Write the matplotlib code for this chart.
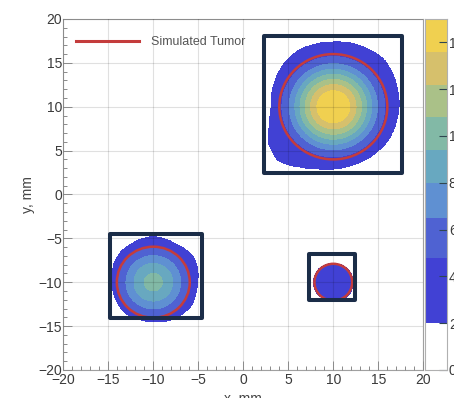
import numpy as np
import matplotlib
matplotlib.use("Agg")
import matplotlib.pyplot as plt
from matplotlib.lines import Line2D
from matplotlib.patches import Circle, Rectangle
from matplotlib.ticker import MultipleLocator

plt.rcParams['font.family'] = ['Liberation Sans', 'DejaVu Sans']

# blobs: centre, peak value, gaussian width
blob_x = [10, -10, 10]
blob_y = [10, -10, -10]
blob_peak = [15.3, 9.83, 4.2]
blob_sigma = [3.75, 3.34, 3.0]

# outer edge of each blob (mm) read every 15 degrees
edge_angles = np.arange(0, 360, 15)
edge_big = [7.3, 7.4, 7.6, 7.8, 7.6, 7.5, 7.4, 7.4, 7.5, 7.4, 7.2, 7.0,
            6.9, 7.3, 8.3, 8.7, 7.9, 7.3, 7.1, 7.0, 7.0, 7.1, 7.2, 7.2]
edge_ll = [4.9, 5.1, 5.3, 5.2, 5.0, 5.1, 5.2, 5.1, 5.0, 5.0, 4.9, 4.7,
           4.6, 4.6, 4.6, 4.7, 4.6, 4.5, 4.5, 4.6, 4.8, 4.9, 5.0, 4.9]
edge_lr = [2.2, 2.2, 2.2, 2.2, 2.15, 2.15, 2.15, 2.15, 2.15, 2.2, 2.2, 2.2,
           2.2, 2.2, 2.2, 2.2, 2.1, 2.1, 2.1, 2.15, 2.2, 2.25, 2.25, 2.2]

# simulated tumours
tumor_r = [6.0, 4.05, 2.1]

# highlight boxes
box_x0 = [2.3, -14.85, 7.3]
box_x1 = [17.6, -4.55, 12.4]
box_y0 = [2.45, -14.07, -12.0]
box_y1 = [18.05, -4.5, -6.75]

levels = [2.0, 4.8, 6.5, 8.0, 9.4, 10.8, 12.2, 13.6, 15.0]
band_colors = ['#4141d4', '#4f62d2', '#5f90d2', '#68a8c0',
               '#82b9a6', '#aac188', '#d6c06c', '#f0d050']
cbar_ticks = [0, 2, 4, 6, 8, 10, 12, 14]

# build the map
grid = np.linspace(-20, 20, 801)
xx, yy = np.meshgrid(grid, grid)
field = np.zeros_like(xx)
for cx, cy, peak, sig, edge in zip(blob_x, blob_y, blob_peak, blob_sigma,
                                   [edge_big, edge_ll, edge_lr]):
    dx, dy = xx - cx, yy - cy
    r = np.hypot(dx, dy)
    th = np.degrees(np.arctan2(dy, dx)) % 360
    r_edge = np.interp(th, edge_angles, edge, period=360)
    g = peak * np.exp(-r**2 / (2 * sig**2))
    field = np.maximum(field, np.where(r < r_edge, np.maximum(g, 3.0), 0.0))
field = np.minimum(field, levels[-1] - 0.01)

fig = plt.figure(figsize=(4.54, 3.98), dpi=100)
ax = fig.add_axes([0.1394, 0.0704, 0.793, 0.8819])
cax = fig.add_axes([0.9361, 0.0704, 0.0478, 0.8819])

ax.contourf(xx, yy, field, levels=levels, colors=band_colors, zorder=1)

red = '#c43c3c'
for cx, cy, rad in zip(blob_x, blob_y, tumor_r):
    ax.add_patch(Circle((cx, cy), rad, fill=False, ec=red, lw=1.8, zorder=4))

navy = '#1b2d48'
for x0, x1, y0, y1 in zip(box_x0, box_x1, box_y0, box_y1):
    ax.add_patch(Rectangle((x0, y0), x1 - x0, y1 - y0, fill=False, ec=navy,
                           lw=2.9, joinstyle='round', zorder=5))

ax.set_xlim(-20, 20)
ax.set_ylim(-20, 20)
ax.xaxis.set_major_locator(MultipleLocator(5))
ax.yaxis.set_major_locator(MultipleLocator(5))
ax.xaxis.set_minor_locator(MultipleLocator(1))
ax.yaxis.set_minor_locator(MultipleLocator(1))
ax.set_axisbelow(False)
ax.grid(True, which='major', color='black', alpha=0.12, lw=0.8)
ax.tick_params(which='both', direction='in', color='#8a8a8a', width=0.7,
               labelsize=10, labelcolor='#3a3a3a')
ax.tick_params(which='major', length=6.5)
ax.tick_params(which='minor', length=3)
ax.tick_params(axis='x', pad=2)
ax.tick_params(axis='y', pad=1)
for s in ax.spines.values():
    s.set_color('#a0a0a0')
    s.set_linewidth(0.8)
ax.set_xlabel('x, mm', fontsize=10, color='#444444', labelpad=4)
ax.set_ylabel('y, mm', fontsize=10, color='#444444', labelpad=2)

handle = Line2D([], [], color=red, lw=2.2)
leg = ax.legend([handle], ['Simulated Tumor'], loc='center left',
                bbox_to_anchor=(0.036, 0.934), frameon=False, fontsize=9,
                handlelength=5.0, handletextpad=1.0, borderpad=0,
                borderaxespad=0)
for t in leg.get_texts():
    t.set_color('#555555')

# colour scale
for lo, hi, c in zip(levels[:-1], levels[1:], band_colors):
    cax.axhspan(lo, hi, color=c, lw=0)
cax.set_xlim(0, 1)
cax.set_ylim(0, 15)
cax.set_xticks([])
cax.set_yticks(cbar_ticks)
cax.yaxis.tick_right()
cax.tick_params(axis='y', direction='in', length=6, width=0.8,
                color='#2f4650', labelsize=10, labelcolor='#3a3a3a', pad=1.5)
for s in cax.spines.values():
    s.set_color('#b0b0b0')
    s.set_linewidth(0.8)

fig.savefig('out.png', dpi=100)
